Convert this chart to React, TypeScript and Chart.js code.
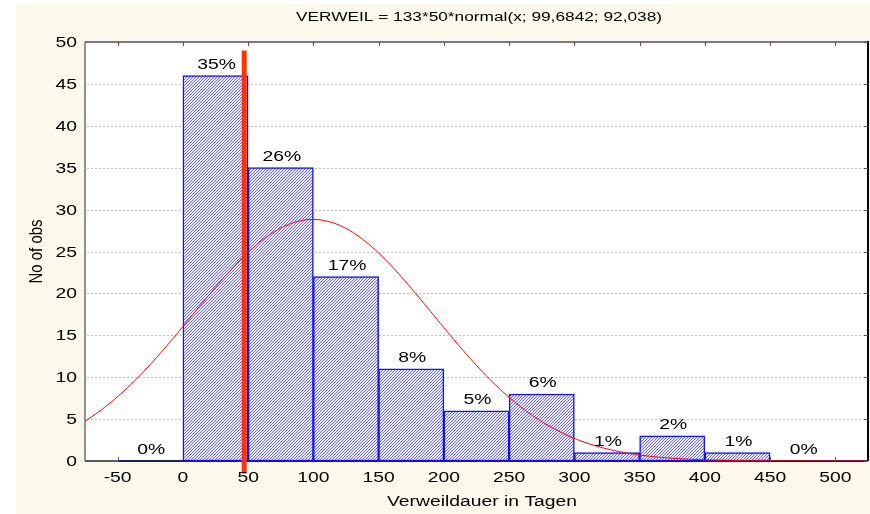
import React, { useEffect, useRef } from 'react';
import { Chart, registerables } from 'chart.js';

Chart.register(...registerables);

// Histogram bins (centres, width 50 days) and observed counts
const BIN_CENTERS = [-25, 25, 75, 125, 175, 225, 275, 325, 375, 425, 475];
const BIN_COUNTS = [0, 46, 35, 22, 11, 6, 8, 1, 3, 1, 0];

// Axis ranges and tick values
const X_MIN = -75;
const X_MAX = 525;
const Y_MIN = 0;
const Y_MAX = 50;
const X_TICKS = [-50, 0, 50, 100, 150, 200, 250, 300, 350, 400, 450, 500];
const Y_TICKS = [0, 5, 10, 15, 20, 25, 30, 35, 40, 45, 50];

// Fitted normal curve parameters (as given in the heading)
const N_OBS = 133;
const BIN_WIDTH = 50;
const FIT_MEAN = 99.6842;
const FIT_SD = 92.038;
const CURVE_STEP = 2.5;

// Vertical reference marker
const MARKER_X = 47;
const MARKER_Y_FROM = -1.5;
const MARKER_Y_TO = 49;

const TITLE = 'VERWEIL = 133*50*normal(x; 99,6842; 92,038)';
const X_TITLE = 'Verweildauer in Tagen';
const Y_TITLE = 'No of obs';

const FONT = '"Liberation Sans", Arial, sans-serif';
const CREAM = '#FDF8EC';
// Text is drawn wide (horizontal stretch) in this layout
const TEXT_STRETCH = 1.38;

function normalPdf(x: number, mean: number, sd: number): number {
  const z = (x - mean) / sd;
  return Math.exp(-0.5 * z * z) / (sd * Math.sqrt(2 * Math.PI));
}

function buildCurve() {
  const pts: { x: number; y: number }[] = [];
  for (let x = X_MIN; x <= X_MAX + 1e-9; x += CURVE_STEP) {
    pts.push({ x, y: N_OBS * BIN_WIDTH * normalPdf(x, FIT_MEAN, FIT_SD) });
  }
  return pts;
}

function makeHatch(): CanvasPattern | string {
  const tile = document.createElement('canvas');
  tile.width = 3;
  tile.height = 3;
  const t = tile.getContext('2d');
  if (!t) return '#A8A8F8';
  t.fillStyle = '#EEEEFF';
  t.fillRect(0, 0, 3, 3);
  t.fillStyle = '#6464FF';
  for (let i = 0; i < 3; i++) t.fillRect(i, 2 - i, 1, 1);
  const ctx = document.createElement('canvas').getContext('2d');
  const p = ctx ? ctx.createPattern(tile, 'repeat') : null;
  return p || '#A8A8F8';
}

function wideText(
  ctx: CanvasRenderingContext2D,
  text: string,
  x: number,
  y: number,
  align: CanvasTextAlign,
  size: number,
  stretch = TEXT_STRETCH,
) {
  ctx.save();
  ctx.font = `${size}px ${FONT}`;
  ctx.textAlign = align;
  ctx.textBaseline = 'alphabetic';
  ctx.translate(x, y);
  ctx.scale(stretch, 1);
  ctx.fillText(text, 0, 0);
  ctx.restore();
}

const histogramDecor = {
  id: 'histogramDecor',
  beforeDraw(chart: any) {
    const { ctx, chartArea, width, height } = chart;
    const y = chart.scales.y;
    ctx.save();
    ctx.fillStyle = '#FFFFFF';
    ctx.fillRect(0, 0, width, height);
    ctx.fillStyle = CREAM;
    ctx.fillRect(16, 4, width - 16, height - 4);
    ctx.fillStyle = '#FFFFFF';
    ctx.fillRect(chartArea.left, chartArea.top, chartArea.right - chartArea.left, chartArea.bottom - chartArea.top);
    // dotted horizontal grid
    ctx.strokeStyle = '#BDBDBD';
    ctx.lineWidth = 1;
    ctx.setLineDash([2, 2]);
    Y_TICKS.forEach((v) => {
      if (v === Y_MIN || v === Y_MAX) return;
      const py = Math.round(y.getPixelForValue(v)) + 0.5;
      ctx.beginPath();
      ctx.moveTo(chartArea.left + 2, py);
      ctx.lineTo(chartArea.right, py);
      ctx.stroke();
    });
    ctx.setLineDash([]);
    ctx.restore();
  },
  beforeDatasetsDraw(chart: any) {
    const { ctx, chartArea } = chart;
    const x = chart.scales.x;
    const y = chart.scales.y;
    const { left, right, top, bottom } = chartArea;
    ctx.save();
    // frame
    ctx.lineWidth = 2;
    ctx.strokeStyle = '#7A7A7A';
    ctx.beginPath();
    ctx.moveTo(left, top);
    ctx.lineTo(right, top);
    ctx.stroke();
    ctx.lineWidth = 1.5;
    ctx.strokeStyle = '#6E6E6E';
    ctx.beginPath();
    ctx.moveTo(left, top);
    ctx.lineTo(left, bottom);
    ctx.stroke();
    ctx.lineWidth = 2;
    ctx.strokeStyle = '#000000';
    ctx.beginPath();
    ctx.moveTo(right, top - 1);
    ctx.lineTo(right, bottom);
    ctx.stroke();
    ctx.strokeStyle = '#5A5A5A';
    ctx.beginPath();
    ctx.moveTo(left, bottom);
    ctx.lineTo(x.getPixelForValue(X_TICKS[0]), bottom);
    ctx.stroke();
    ctx.strokeStyle = '#1E1E66';
    ctx.beginPath();
    ctx.moveTo(x.getPixelForValue(X_TICKS[0]), bottom);
    ctx.lineTo(right, bottom);
    ctx.stroke();
    // inner tick marks
    ctx.lineWidth = 1;
    ctx.strokeStyle = '#555555';
    X_TICKS.forEach((v) => {
      const px = Math.round(x.getPixelForValue(v)) + 0.5;
      ctx.beginPath();
      ctx.moveTo(px, top);
      ctx.lineTo(px, top + 4);
      ctx.moveTo(px, bottom);
      ctx.lineTo(px, bottom - 4);
      ctx.stroke();
    });
    Y_TICKS.forEach((v) => {
      const py = Math.round(y.getPixelForValue(v)) + 0.5;
      ctx.beginPath();
      ctx.moveTo(right, py);
      ctx.lineTo(right - 4, py);
      ctx.stroke();
    });
    ctx.restore();
  },
  afterDatasetsDraw(chart: any) {
    const { ctx, chartArea } = chart;
    const x = chart.scales.x;
    const y = chart.scales.y;
    ctx.save();
    ctx.fillStyle = '#000000';

    // tick labels
    X_TICKS.forEach((v) => {
      wideText(ctx, String(v), x.getPixelForValue(v), chartArea.bottom + 21, 'center', 14);
    });
    Y_TICKS.forEach((v) => {
      wideText(ctx, String(v), chartArea.left - 8, y.getPixelForValue(v) + 5, 'right', 14);
    });

    // percentage of observations above each bin
    BIN_CENTERS.forEach((c, i) => {
      const pct = Math.round((BIN_COUNTS[i] / N_OBS) * 100) + '%';
      wideText(ctx, pct, x.getPixelForValue(c) + 1, y.getPixelForValue(BIN_COUNTS[i]) - 7, 'center', 14);
    });

    // headings
    wideText(ctx, TITLE, 479, 21, 'center', 12, 1.44);
    wideText(ctx, X_TITLE, 482, 506, 'center', 14);

    ctx.save();
    ctx.font = `15px ${FONT}`;
    ctx.textAlign = 'center';
    ctx.textBaseline = 'middle';
    ctx.translate(37.5, (chartArea.top + chartArea.bottom) / 2);
    ctx.scale(1.2, 1);
    ctx.rotate(-Math.PI / 2);
    ctx.fillText(Y_TITLE, 0, 0);
    ctx.restore();

    ctx.restore();
  },
};

export default function App() {
  const canvasRef = useRef<HTMLCanvasElement | null>(null);

  useEffect(() => {
    document.body.style.margin = '0';
    const canvas = canvasRef.current;
    if (!canvas) return;

    const hatch = makeHatch();
    const bars = BIN_CENTERS.map((c, i) => ({ x: c, y: BIN_COUNTS[i] }));

    const chart = new Chart(canvas, {
      type: 'bar',
      data: {
        datasets: [
          {
            type: 'bar',
            data: bars,
            backgroundColor: hatch as any,
            borderColor: '#1010FF',
            borderWidth: 1.5,
            borderSkipped: false,
            barPercentage: 1,
            categoryPercentage: 1,
            order: 3,
          } as any,
          {
            type: 'line',
            data: buildCurve(),
            borderColor: '#FF0000',
            borderWidth: 1,
            pointRadius: 0,
            tension: 0,
            order: 2,
          } as any,
          {
            type: 'line',
            data: [
              { x: MARKER_X, y: MARKER_Y_FROM },
              { x: MARKER_X, y: MARKER_Y_TO },
            ],
            borderColor: '#FF3300',
            borderWidth: 5,
            borderCapStyle: 'butt',
            pointRadius: 0,
            clip: false,
            order: 1,
          } as any,
        ],
      },
      options: {
        responsive: false,
        animation: false,
        devicePixelRatio: 1,
        layout: { padding: { left: 0, right: 2, top: 42, bottom: 0 } },
        plugins: {
          legend: { display: false },
          tooltip: { enabled: false },
          title: { display: false },
        },
        scales: {
          x: {
            type: 'linear',
            min: X_MIN,
            max: X_MAX,
            offset: false,
            grid: { display: false, drawTicks: false },
            border: { display: false },
            afterBuildTicks: (scale: any) => {
              scale.ticks = X_TICKS.map((v) => ({ value: v }));
            },
            afterFit: (scale: any) => {
              scale.height = 53;
            },
            ticks: { display: false },
          },
          y: {
            type: 'linear',
            min: Y_MIN,
            max: Y_MAX,
            grid: { display: false, drawTicks: false },
            border: { display: false },
            afterBuildTicks: (scale: any) => {
              scale.ticks = Y_TICKS.map((v) => ({ value: v }));
            },
            afterFit: (scale: any) => {
              scale.width = 85;
            },
            ticks: { display: false },
          },
        },
      } as any,
      plugins: [histogramDecor],
    });

    return () => {
      chart.destroy();
    };
  }, []);

  return (
    <div style={{ width: 870, height: 514 }}>
      <canvas ref={canvasRef} width={870} height={514} style={{ display: 'block' }} />
    </div>
  );
}
